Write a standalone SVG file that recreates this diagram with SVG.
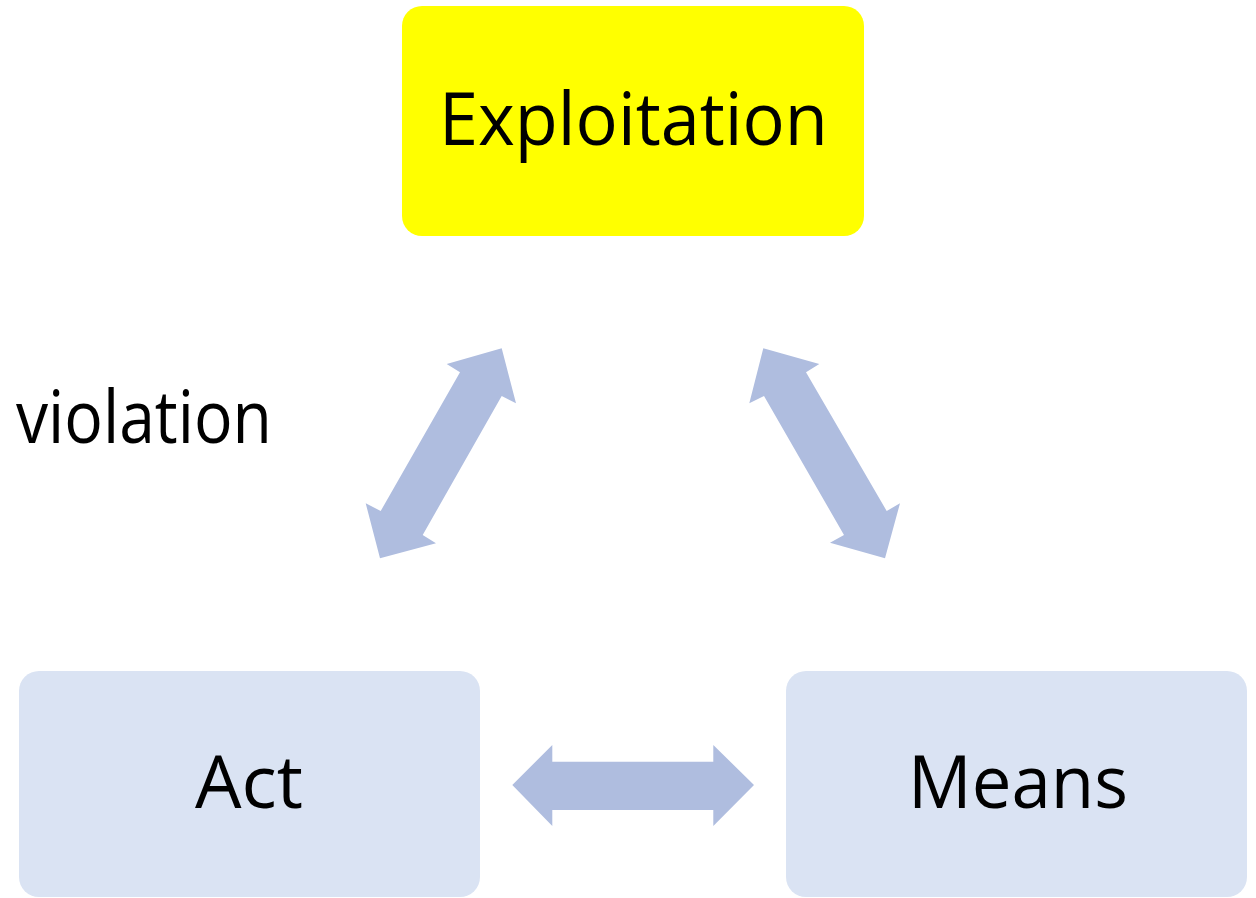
<svg xmlns="http://www.w3.org/2000/svg" width="1256" height="898" viewBox="0 0 1256 898">
<style>
.box{fill:#DAE3F3}
.hl{fill:#FFFF00}
.lbl{font-family:"Open Sans","Noto Sans",sans-serif;font-size:73px;fill:#000}
.arr{fill:#AFBDDF}
</style>
<rect width="1256" height="898" fill="#FFFFFF"/>
<g id="connectors">
<polygon class="arr" points="501.7,348.3 516,403.3 501.7,396 422.7,535 436,543.3 380,558.3 365.7,503.3 380.7,511 460,372.3 446.7,364"/>
<polygon class="arr" points="763.3,348.3 819.3,364 806,372.3 886.7,511 900,503.3 885,558.3 830,542.7 844,535 764,396 749.3,403.3"/>
<polygon class="arr" points="512.3,785 552.3,745 552.3,761.7 713.3,761.7 713.3,745 754,785 713.3,826 713.3,810 552.3,810 552.3,826"/>
</g>
<g id="exploitation">
<rect class="hl" x="402" y="6" width="462" height="230" rx="20" ry="20"/>
<text class="lbl" x="439" y="145" textLength="389" lengthAdjust="spacingAndGlyphs">Exploitation</text>
</g>
<g id="act">
<rect class="box" x="19" y="671" width="461" height="226" rx="20" ry="20"/>
<text class="lbl" x="195" y="808" textLength="108" lengthAdjust="spacingAndGlyphs">Act</text>
</g>
<g id="means">
<rect class="box" x="786" y="671" width="461" height="226" rx="20" ry="20"/>
<text class="lbl" x="908" y="808" textLength="220" lengthAdjust="spacingAndGlyphs">Means</text>
</g>
<g id="violation">
<text class="lbl" x="16" y="443" textLength="256" lengthAdjust="spacingAndGlyphs">violation</text>
</g>
</svg>
